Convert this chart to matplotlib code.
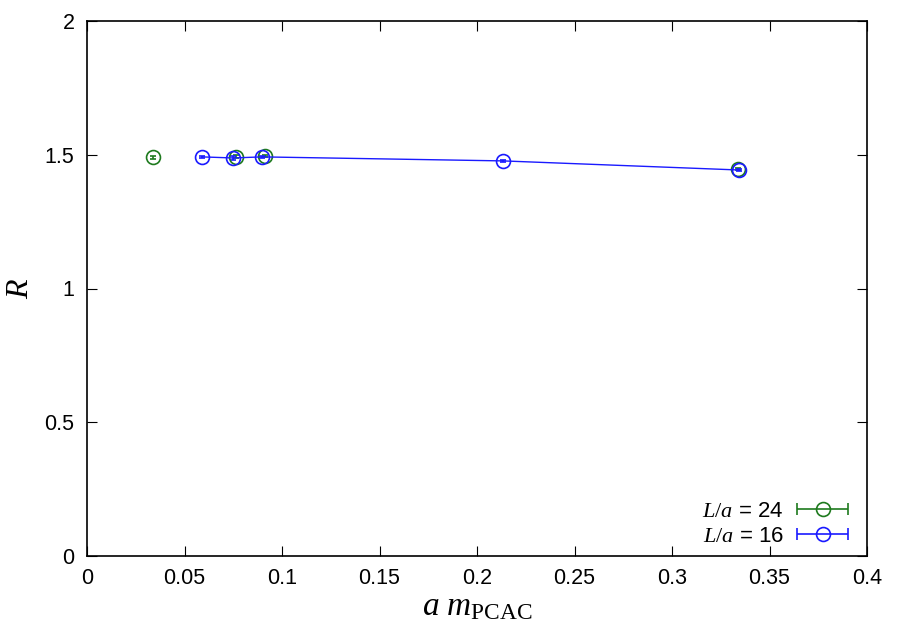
import numpy as np
import matplotlib.pyplot as plt
from matplotlib.legend_handler import HandlerErrorbar

plt.rcParams['mathtext.fontset'] = 'custom'
plt.rcParams['mathtext.rm'] = 'Liberation Serif'
plt.rcParams['mathtext.it'] = 'Liberation Serif:italic'

# L/a = 24
x24 = [0.0338, 0.0764, 0.0913, 0.3340]
y24 = [1.4905, 1.4925, 1.4950, 1.4460]
ye24 = [0.006, 0.005, 0.005, 0.004]

# L/a = 16
x16 = [0.0590, 0.0749, 0.0897, 0.2133, 0.3344]
y16 = [1.4920, 1.4880, 1.4920, 1.4770, 1.4430]
ye16 = [0.005, 0.006, 0.005, 0.003, 0.004]

green = '#1e7a1e'
blue = '#1a1aff'

fig = plt.figure(figsize=(9, 6.3), dpi=100)
ax = fig.add_axes([87/900, 74/630, 780/900, 535/630])

ax.errorbar(x24, y24, yerr=ye24, fmt='o', mfc='none', mec=green, ecolor=green,
            ms=10, mew=1.2, capsize=2.5, elinewidth=1.2, color=green)
ax.errorbar(x16, y16, yerr=ye16, fmt='o-', mfc='none', mec=blue, ecolor=blue,
            ms=10, mew=1.2, capsize=2.5, elinewidth=1.2, color=blue, lw=1)

# legend samples with horizontal bars, like the gnuplot key
h24 = ax.errorbar([np.nan], [np.nan], xerr=[0.01], fmt='o', mfc='none', mec=green,
                  ecolor=green, color=green, ms=10, mew=1.2, capsize=4, elinewidth=1.2)
h16 = ax.errorbar([np.nan], [np.nan], xerr=[0.01], fmt='o', mfc='none', mec=blue,
                  ecolor=blue, color=blue, ms=10, mew=1.2, capsize=4, elinewidth=1.2)
leg = ax.legend([h24, h16], ['$L/a$ = 24', '$L/a$ = 16'], loc='lower right',
                bbox_to_anchor=(0.99, 0.0),
                frameon=False, markerfirst=False, handlelength=2.5,
                borderaxespad=0.0, labelspacing=0.2, handletextpad=0.5,
                handler_map={type(h24): HandlerErrorbar(xerr_size=1.15)},
                prop={'family': 'Liberation Sans', 'size': 16})

ax.set_xlim(0, 0.4)
ax.set_ylim(0, 2)
ax.set_xticks(np.arange(0, 0.401, 0.05))
ax.set_xticklabels(['0', '0.05', '0.1', '0.15', '0.2', '0.25', '0.3', '0.35', '0.4'])
ax.set_yticks([0, 0.5, 1, 1.5, 2])
ax.set_yticklabels(['0', '0.5', '1', '1.5', '2'])
ax.tick_params(direction='in', top=True, right=True, length=7, labelsize=15.5, pad=9)
for lab in ax.get_xticklabels() + ax.get_yticklabels():
    lab.set_family('Liberation Sans')
for s in ax.spines.values():
    s.set_linewidth(1.2)

ax.set_xlabel(r'$a\ m_{\mathrm{PCAC}}$', fontsize=24, labelpad=0)
ax.set_ylabel(r'$R$', fontsize=23)
ax.yaxis.set_label_coords(-0.067, 0.5)

fig.savefig('out.png', dpi=100)
